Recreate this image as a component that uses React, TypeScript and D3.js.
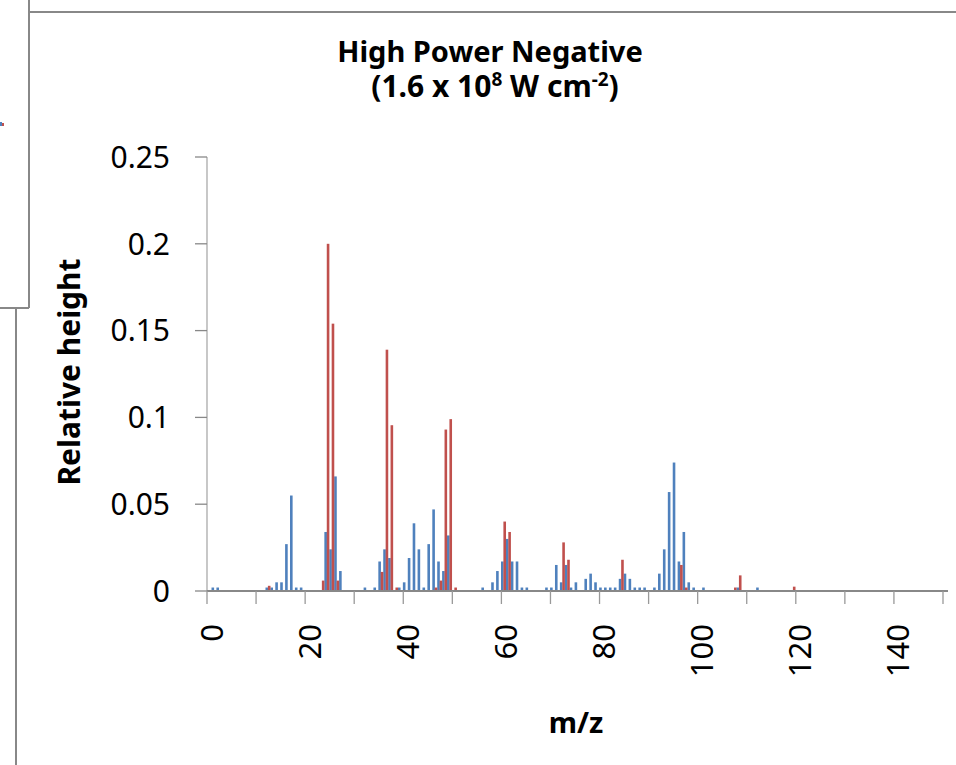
import React from 'react';
import * as d3 from 'd3';

// m/z positions and relative heights
const blueMz = [1, 2, 12, 13, 14, 15, 16, 17, 18, 19, 24, 25, 26, 27, 32, 34, 35, 36, 37, 39, 40, 41, 42, 43, 44, 45, 46, 47, 48, 49,
  56, 58, 59, 60, 61, 62, 63, 64, 65, 69, 70, 71, 72, 73, 74, 75, 77, 78, 79, 80, 81, 82, 83, 84, 85, 86, 87, 88, 89,
  91, 92, 93, 94, 95, 96, 97, 98, 99, 101, 108, 112];
const blueHeight = [0.002, 0.002, 0.002, 0.002, 0.005, 0.005, 0.027, 0.055, 0.002, 0.002, 0.034, 0.024, 0.066, 0.0115, 0.002, 0.002,
  0.017, 0.024, 0.019, 0.002, 0.005, 0.019, 0.039, 0.024, 0.002, 0.027, 0.047, 0.017, 0.0115, 0.032,
  0.002, 0.005, 0.0115, 0.017, 0.03, 0.017, 0.017, 0.002, 0.002, 0.002, 0.002, 0.015, 0.005, 0.015, 0.002, 0.005, 0.007, 0.01,
  0.005, 0.002, 0.002, 0.002, 0.002, 0.007, 0.01, 0.007, 0.002, 0.002, 0.002,
  0.002, 0.01, 0.024, 0.057, 0.074, 0.017, 0.034, 0.005, 0.002, 0.002, 0.002, 0.002];

const redMz = [13, 24, 25, 26, 27, 36, 37, 38, 39, 47, 48, 49, 50, 51, 61, 62, 73, 74, 85, 97, 98, 108, 109, 120];
const redHeight = [0.003, 0.006, 0.2, 0.154, 0.006, 0.011, 0.139, 0.0955, 0.002, 0.002, 0.006, 0.093, 0.099, 0.002,
  0.04, 0.034, 0.028, 0.018, 0.018, 0.015, 0.002, 0.002, 0.009, 0.0025];

const yTicks = [0, 0.05, 0.1, 0.15, 0.2, 0.25];
const xTicks = [0, 10, 20, 30, 40, 50, 60, 70, 80, 90, 100, 110, 120, 130, 140, 150];
const xLabels = [0, 20, 40, 60, 80, 100, 120, 140];

const W = 956, H = 765;
const font = '"Noto Sans", "Open Sans", sans-serif';

export default function App() {
  const x = d3.scaleLinear().domain([0, 150]).range([207, 943]);
  const y = d3.scaleLinear().domain([0, 0.25]).range([591, 157]);
  const bw = 2.6;

  return (
    <svg width={W} height={H} style={{ position: 'absolute', left: 0, top: 0, background: '#fff' }}>
      {/* edges of neighbouring charts */}
      <line x1={29} x2={W} y1={12} y2={12} stroke="#888" strokeWidth={2} />
      <line x1={29} x2={29} y1={0} y2={308} stroke="#888" strokeWidth={2} />
      <line x1={0} x2={29} y1={308} y2={308} stroke="#888" strokeWidth={2} />
      <line x1={16} x2={16} y1={308} y2={H} stroke="#888" strokeWidth={2} />
      <rect x={0} y={122} width={2} height={4} fill="#4F81BD" />
      <rect x={2} y={123} width={2} height={3} fill="#C0504D" />

      {/* title */}
      <text x={490} y={62} textAnchor="middle" fontFamily={font} fontWeight="bold" fontSize={29}>High Power Negative</text>
      <text x={495} y={97} textAnchor="middle" fontFamily={font} fontWeight="bold" fontSize={30}>
        (1.6 x 10<tspan fontSize={19} dy={-11}>8</tspan><tspan dy={11}> W cm</tspan><tspan fontSize={19} dy={-11}>-2</tspan><tspan dy={11}>)</tspan>
      </text>

      {/* y axis */}
      <line x1={207} x2={207} y1={y(0.25)} y2={y(0)} stroke="#aaa" strokeWidth={1.3} />
      {yTicks.map(t => (
        <g key={t}>
          <line x1={195} x2={207} y1={y(t)} y2={y(t)} stroke="#888" strokeWidth={1.3} />
          <text x={170} y={y(t)} dy="0.36em" textAnchor="end" fontFamily={font} fontSize={30}>{t}</text>
        </g>
      ))}

      {/* bars */}
      {blueMz.map((m, i) => (
        <rect key={'b' + m} x={x(m) + 0.9 - bw / 2} y={y(blueHeight[i])} width={bw}
          height={y(0) - y(blueHeight[i])} fill="#4F81BD" />
      ))}
      {redMz.map((m, i) => (
        <rect key={'r' + m} x={x(m) - 1.6 - bw / 2} y={y(redHeight[i])} width={bw}
          height={y(0) - y(redHeight[i])} fill="#C0504D" />
      ))}

      {/* x axis */}
      <line x1={207} x2={948} y1={y(0)} y2={y(0)} stroke="#888" strokeWidth={2.2} />
      {xTicks.map(t => (
        <line key={t} x1={x(t)} x2={x(t)} y1={y(0)} y2={604} stroke="#999" strokeWidth={1.3} />
      ))}
      {xLabels.map(t => (
        <text key={t} transform={`translate(${x(t)},624) rotate(-90)`} dy="0.5em" textAnchor="end"
          fontFamily={font} fontSize={31}>{t}</text>
      ))}

      {/* axis titles */}
      <text x={576} y={733} textAnchor="middle" fontFamily={font} fontWeight="bold" fontSize={29}>m/z</text>
      <text transform="translate(80,372) rotate(-90)" textAnchor="middle" fontFamily={font} fontWeight="bold" fontSize={30}>Relative height</text>
    </svg>
  );
}
